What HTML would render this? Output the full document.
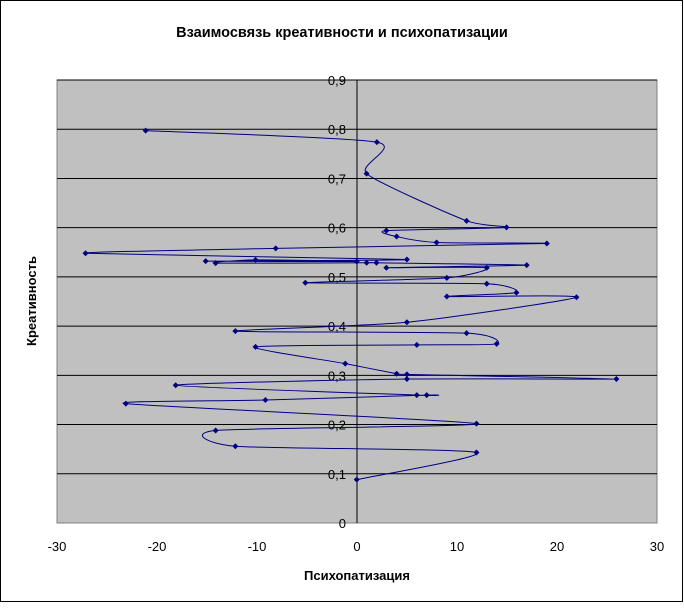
<!DOCTYPE html>
<html><head><meta charset="utf-8"><style>
body{margin:0;background:#fff;}
</style></head><body>
<svg id="s" width="684" height="603" xmlns="http://www.w3.org/2000/svg" font-family="'Liberation Sans', Arial, sans-serif">
<rect x="0.5" y="0.5" width="682" height="601" fill="#fff" stroke="#000"/>
<text x="342" y="37" text-anchor="middle" font-size="14.5" font-weight="bold">Взаимосвязь креативности и психопатизации</text>
<rect x="57" y="80" width="600" height="443" fill="#c0c0c0" stroke="#808080"/>
<g id="grid" stroke="#000" stroke-width="1"></g>
<line x1="357" y1="80" x2="357" y2="523" stroke="#000"/>
<g id="lbl" font-size="13"></g>
<path id="p" fill="none" stroke="#000080" stroke-width="1"/>
<g id="m" fill="#000080"></g>
<text x="357" y="580" text-anchor="middle" font-size="13" font-weight="bold">Психопатизация</text>
<text transform="translate(36,301) rotate(-90)" text-anchor="middle" font-size="13" font-weight="bold">Креативность</text>
</svg>
<script>
var NS="http://www.w3.org/2000/svg";
function el(t,a,p,txt){var e=document.createElementNS(NS,t);for(var k in a)e.setAttribute(k,a[k]);if(txt)e.textContent=txt;document.getElementById(p).appendChild(e);}
for(var i=1;i<=9;i++){var y=523-i*49.22;el('line',{x1:57,x2:657,y1:y,y2:y},'grid');}
for(var i=0;i<=9;i++){var y=523-i*49.22;el('text',{x:346,y:y+5,'text-anchor':'end'},'lbl',(i==0?'0':'0,'+i));}
for(var v=-30;v<=30;v+=10){el('text',{x:357+v*10,y:551,'text-anchor':'middle'},'lbl',String(v));}
var z1=[[242,63],[827,98],[801,194],[1054,338],[1155,358],[851,368],[877,386],[978,404],[1257,407],[571,422],[90,437],[903,456],[394,461],[776,462],[520,457],[419,467],[801,466],[826,466],[1206,473],[851,481],[1105,481],[1004,512],[646,527],[1105,530],[1180,557],[1004,569],[1332,571]];
var z2=[[903,68],[469,95],[1054,101],[1130,134],[928,137],[520,143],[747,194],[877,225],[903,227],[1433,241],[903,241],[318,260],[928,290],[953,290],[545,305],[192,316],[1079,377],[419,398],[469,446],[1079,465],[776,548]];
var P=[];
z1.forEach(function(q){P.push([50+q[0]/2.53,110+q[1]/3.05]);});
z2.forEach(function(q){P.push([50+q[0]/2.53,300+q[1]/3.05]);});
var d='M'+P[0][0]+','+P[0][1];
for(var i=0;i<P.length-1;i++){
 var p0=P[Math.max(0,i-1)],p1=P[i],p2=P[i+1],p3=P[Math.min(P.length-1,i+2)];
 var t=1/9;
 d+=' C'+(p1[0]+(p2[0]-p0[0])*t)+','+(p1[1]+(p2[1]-p0[1])*t)+' '+(p2[0]-(p3[0]-p1[0])*t)+','+(p2[1]-(p3[1]-p1[1])*t)+' '+p2[0]+','+p2[1];
}
document.getElementById('p').setAttribute('d',d);
P.forEach(function(q){el('path',{d:'M'+q[0]+','+(q[1]-3)+' L'+(q[0]+3)+','+q[1]+' L'+q[0]+','+(q[1]+3)+' L'+(q[0]-3)+','+q[1]+'Z'},'m');});
</script>
</body></html>
